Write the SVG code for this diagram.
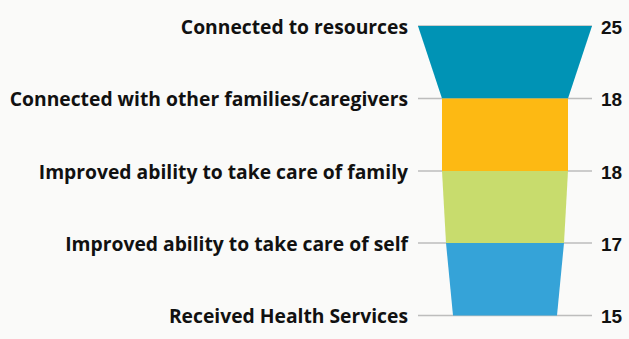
<svg xmlns="http://www.w3.org/2000/svg" width="629" height="339" viewBox="0 0 629 339">
<style>
.lbl{font-family:"Open Sans",sans-serif;font-weight:700;font-size:19.3px;fill:#111;text-anchor:end}
.num{font-family:"Liberation Sans",Arial,sans-serif;font-weight:700;font-size:19px;fill:#111}
.grid{stroke:#BDBDBD;stroke-width:1.5}
</style>
<rect width="629" height="339" fill="#FAFAF9"/>
<g id="connectors">
<line class="grid" x1="418" y1="26" x2="592" y2="26"/>
<line class="grid" x1="418" y1="98.5" x2="592" y2="98.5"/>
<line class="grid" x1="418" y1="171" x2="592" y2="171"/>
<line class="grid" x1="418" y1="243" x2="592" y2="243"/>
<line class="grid" x1="418" y1="315.5" x2="592" y2="315.5"/>
</g>
<g id="seg1">
<polygon points="418,26 592,26 568,98.5 442,98.5" fill="#0093B5"/>
<text class="lbl" x="408" y="33.5">Connected to resources</text>
<text class="num" x="601" y="33.5">25</text>
</g>
<g id="seg2">
<polygon points="442,98.5 568,98.5 568,171 442,171" fill="#FDB913"/>
<text class="lbl" x="408" y="106">Connected with other families/caregivers</text>
<text class="num" x="601" y="106">18</text>
</g>
<g id="seg3">
<polygon points="442,171 568,171 564,243 446,243" fill="#C8DC6D"/>
<text class="lbl" x="408" y="178.5">Improved ability to take care of family</text>
<text class="num" x="601" y="178.5">18</text>
</g>
<g id="seg4">
<polygon points="446,243 564,243 557,315.5 453,315.5" fill="#35A3D8"/>
<text class="lbl" x="408" y="250.5">Improved ability to take care of self</text>
<text class="num" x="601" y="250.5">17</text>
</g>
<g id="seg5">
<text class="lbl" x="408" y="322.5">Received Health Services</text>
<text class="num" x="601" y="322.5">15</text>
</g>
</svg>
